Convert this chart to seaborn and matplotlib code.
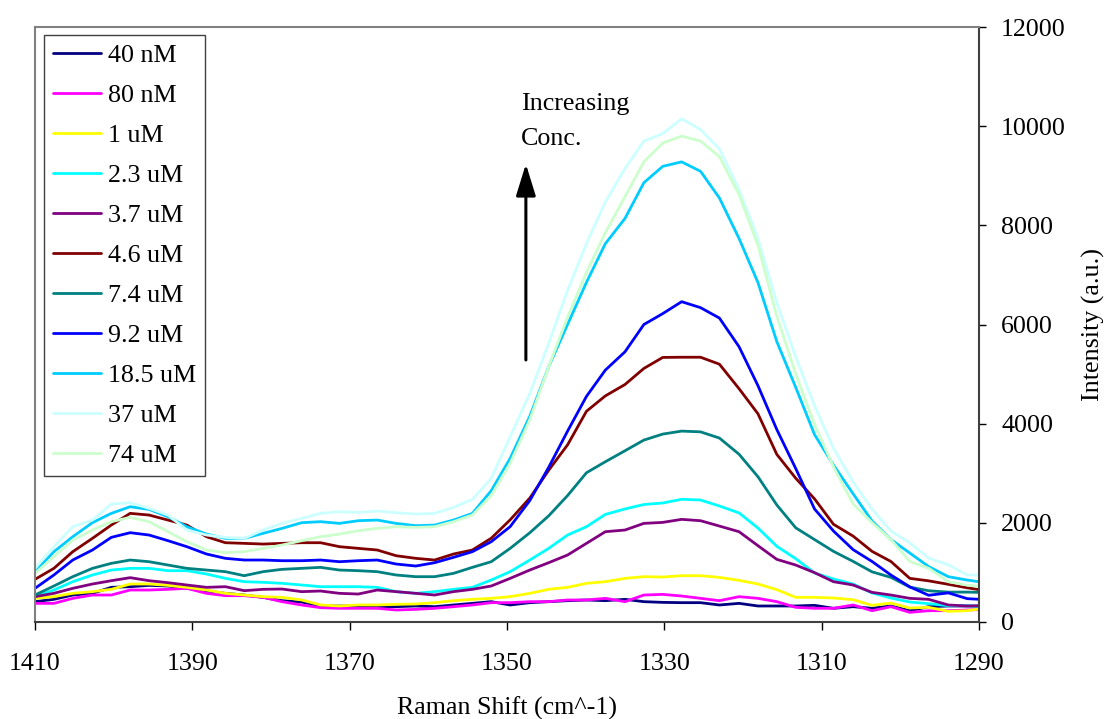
import matplotlib
matplotlib.use('Agg')
import matplotlib.pyplot as plt
import seaborn as sns

sns.set_style('white')
plt.rcParams['font.family'] = ['Liberation Serif', 'DejaVu Serif']
plt.rcParams['text.color'] = 'black'
plt.rcParams['axes.labelcolor'] = 'black'
plt.rcParams['xtick.color'] = 'black'
plt.rcParams['ytick.color'] = 'black'
FS = 18.7

# ---------------- data ----------------
raman_shift = [1410.0, 1407.6, 1405.2, 1402.7, 1400.3, 1397.9, 1395.5, 1393.1, 1390.7, 1388.2,
               1385.8, 1383.4, 1381.0, 1378.6, 1376.1, 1373.7, 1371.3, 1368.9, 1366.5, 1364.1,
               1361.6, 1359.2, 1356.8, 1354.4, 1352.0, 1349.6, 1347.1, 1344.7, 1342.3, 1339.9,
               1337.5, 1335.0, 1332.6, 1330.2, 1327.8, 1325.4, 1323.0, 1320.5, 1318.1, 1315.7,
               1313.3, 1310.9, 1308.5, 1306.0, 1303.6, 1301.2, 1298.8, 1296.4, 1293.9, 1291.5,
               1289.1]

labels = ['40 nM', '80 nM', '1 uM', '2.3 uM', '3.7 uM', '4.6 uM', '7.4 uM', '9.2 uM',
          '18.5 uM', '37 uM', '74 uM']
colors = ['#000080', '#FF00FF', '#FFFF00', '#00FFFF', '#800080', '#800000', '#008080',
          '#0000FF', '#00CCFF', '#CCFFFF', '#CCFFCC']

c_40nM = [410, 457, 544, 578, 699, 712, 739, 726, 679, 625, 578, 544, 497, 430, 403, 323, 323,
          323, 309, 309, 323, 309, 343, 376, 410, 343, 390, 410, 430, 444, 430, 457, 410,
          396, 390, 390, 343, 376, 323, 323, 323, 336, 276, 309, 276, 323, 228, 309, 323, 323, 323]
c_80nM = [376, 376, 477, 544, 544, 645, 645, 659, 679, 578, 531, 531, 497, 410, 343, 289, 276,
          276, 276, 242, 255, 276, 309, 343, 390, 390, 410, 410, 444, 444, 477, 410, 544,
          557, 524, 477, 430, 511, 477, 410, 296, 276, 276, 343, 228, 309, 195, 228, 228, 242, 255]
c_1uM = [477, 511, 578, 612, 659, 766, 766, 739, 699, 645, 578, 544, 511, 497, 444, 343, 323,
         343, 343, 356, 363, 390, 430, 457, 477, 511, 578, 659, 699, 780, 813, 880, 914,
         907, 934, 934, 900, 840, 766, 652, 497, 497, 484, 450, 336, 383, 282, 296, 215, 228, 282]
c_2_3uM = [511, 645, 813, 948, 1048, 1082, 1082, 1035, 1035, 968, 880, 813, 800, 780, 746, 712, 712,
           712, 699, 612, 578, 612, 659, 699, 847, 1015, 1250, 1485, 1754, 1922, 2170, 2280, 2370,
           2400, 2475, 2460, 2340, 2200, 1895, 1526, 1277, 988, 867, 766, 585, 484, 403, 370, 329, 329, 296]
c_3_7uM = [511, 578, 679, 766, 833, 894, 833, 793, 746, 699, 712, 632, 659, 665, 612, 625, 578,
           564, 645, 612, 578, 544, 612, 659, 726, 880, 1048, 1196, 1351, 1586, 1821, 1855, 1989,
           2009, 2070, 2043, 1935, 1821, 1539, 1263, 1149, 995, 813, 746, 598, 544, 477, 457, 343, 323, 323]
c_4_6uM = [860, 1082, 1418, 1687, 1955, 2191, 2157, 2056, 1955, 1720, 1599, 1586, 1572, 1586, 1599, 1599, 1519,
           1485, 1452, 1337, 1284, 1250, 1371, 1452, 1690, 2060, 2500, 3061, 3573, 4250, 4560, 4790, 5114,
           5336, 5340, 5340, 5200, 4705, 4200, 3380, 2900, 2482, 1971, 1732, 1425, 1221, 880, 830, 760, 690, 630]
c_7_4uM = [544, 726, 914, 1082, 1183, 1250, 1216, 1149, 1082, 1048, 1015, 934, 1015, 1062, 1082, 1102, 1048,
           1035, 1015, 948, 914, 914, 981, 1102, 1216, 1485, 1800, 2141, 2550, 3010, 3232, 3454, 3669,
           3790, 3850, 3835, 3710, 3383, 2930, 2360, 1900, 1662, 1425, 1222, 1012, 900, 704, 630, 603, 603, 595]
c_9_2uM = [679, 948, 1250, 1452, 1707, 1801, 1754, 1640, 1519, 1371, 1284, 1250, 1250, 1236, 1236, 1250, 1216,
           1236, 1250, 1169, 1129, 1196, 1304, 1418, 1620, 1923, 2450, 3120, 3850, 4550, 5080, 5450, 6000,
           6220, 6460, 6340, 6130, 5551, 4767, 3881, 3096, 2278, 1835, 1459, 1221, 948, 709, 539, 587, 471, 450]
c_18_5uM = [1015, 1418, 1720, 2003, 2191, 2325, 2271, 2124, 1922, 1774, 1687, 1687, 1788, 1888, 2003, 2023, 1989,
            2043, 2056, 1989, 1942, 1955, 2056, 2191, 2650, 3300, 4150, 5150, 6000, 6850, 7630, 8140, 8860,
            9190, 9280, 9090, 8552, 7734, 6847, 5654, 4733, 3778, 3165, 2585, 2039, 1664, 1391, 1118, 914, 846, 791]
c_37uM = [1082, 1519, 1922, 2056, 2379, 2406, 2292, 2157, 1855, 1754, 1707, 1687, 1855, 1989, 2090, 2191, 2224,
          2211, 2238, 2204, 2177, 2191, 2312, 2473, 2900, 3736, 4610, 5620, 6690, 7630, 8470, 9150, 9700,
          9850, 10150, 9930, 9540, 8720, 7734, 6438, 5347, 4358, 3505, 2824, 2278, 1835, 1596, 1289, 1153, 948, 948]
c_74uM = [981, 1317, 1653, 1855, 2023, 2110, 2023, 1821, 1620, 1452, 1398, 1418, 1485, 1552, 1640, 1720, 1774,
          1841, 1888, 1922, 1908, 1922, 2023, 2157, 2550, 3200, 4080, 5150, 6150, 7050, 7850, 8580, 9280,
          9660, 9800, 9700, 9384, 8620, 7597, 6165, 5006, 3983, 3130, 2380, 2005, 1664, 1221, 1084, 812, 743, 709]

series = [c_40nM, c_80nM, c_1uM, c_2_3uM, c_3_7uM, c_4_6uM, c_7_4uM, c_9_2uM,
          c_18_5uM, c_37uM, c_74uM]

x_ticks = [1410, 1390, 1370, 1350, 1330, 1310, 1290]
y_ticks = [0, 2000, 4000, 6000, 8000, 10000, 12000]

# ---------------- figure ----------------
fig = plt.figure(figsize=(11.09, 7.19), dpi=100)
ax = fig.add_axes([35 / 1109, 1 - 622 / 719, 944 / 1109, 595 / 719])

for lab, vals, col in zip(labels, series, colors):
    sns.lineplot(x=raman_shift, y=vals, color=col, lw=2.0, label=lab, ax=ax,
                 sort=False, estimator=None)

ax.set_xlim(1410, 1290)
ax.set_ylim(0, 12000)
ax.set_xticks(x_ticks)
ax.set_xticklabels([str(t) for t in x_ticks])
ax.set_yticks(y_ticks)
ax.set_yticklabels([str(t) for t in y_ticks])
ax.yaxis.tick_right()
ax.yaxis.set_label_position('right')
ax.tick_params(axis='x', direction='out', length=6, width=1, pad=16, labelsize=FS,
               bottom=True, top=False, colors='black')
ax.tick_params(axis='y', direction='out', length=5, width=1, pad=11, labelsize=FS,
               right=True, left=False, colors='black')
ax.grid(False)

for side in ['left', 'top']:
    ax.spines[side].set_color('#808080')
    ax.spines[side].set_linewidth(1.5)
for side in ['right', 'bottom']:
    ax.spines[side].set_color('#404040')
    ax.spines[side].set_linewidth(1.5)

ax.set_xlabel('Raman Shift (cm^-1)', fontsize=FS, color='black')
ax.xaxis.set_label_coords(0.5, -0.126)
ax.set_ylabel('Intensity (a.u.)', fontsize=FS, color='black')
ax.yaxis.set_label_coords(1.109, 0.5)

leg = ax.legend(loc='upper left', bbox_to_anchor=(0.0095, 0.9866), borderaxespad=0,
                frameon=True, fancybox=False, shadow=False, framealpha=1,
                edgecolor='#404040', fontsize=FS, handlelength=1.88, handletextpad=0.25,
                labelspacing=0.65, borderpad=0.33)
leg.get_frame().set_linewidth(1.0)
for t in leg.get_texts():
    t.set_color('black')

ax.text(1348.2, 10090, 'Increasing\nConc.', fontsize=FS, ha='left', va='center',
        linespacing=1.75, color='black')
ax.annotate('', xy=(1347.6, 9238), xytext=(1347.6, 5285),
            arrowprops=dict(arrowstyle='-|>,head_length=0.97,head_width=0.3',
                            mutation_scale=20, lw=2.2, color='black',
                            shrinkA=0, shrinkB=0))

fig.savefig('out.png', dpi=100)
